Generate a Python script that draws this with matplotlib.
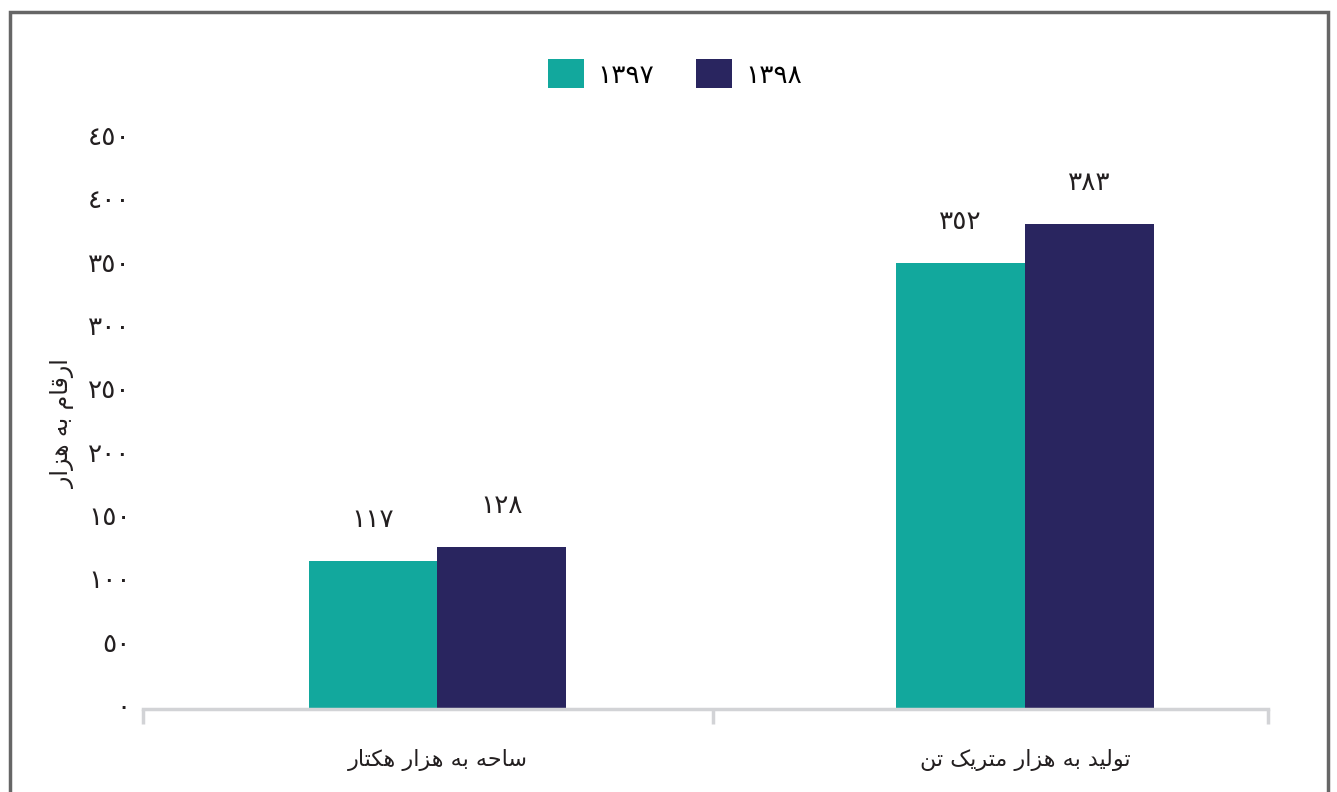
"""
Area and production bar chart (1397 vs 1398)
"""

import numpy as np
import matplotlib
matplotlib.use("Agg")
import matplotlib.pyplot as plt
import matplotlib.transforms as mtransforms
from matplotlib.patches import Rectangle

# data
categories = ["ساحه به هزار هکتار", "تولید به هزار متریک تن"]
years = ["1397", "1398"]
values_1397 = [117, 352]
values_1398 = [128, 383]
yticks = [0, 50, 100, 150, 200, 250, 300, 350, 400, 450]
ylabel = "ارقام به هزار"

teal = "#12a89d"
navy = "#29255f"
grey = "#d2d3d6"
txt = "#231f20"

# --- minimal arabic shaping (matplotlib does no joining / bidi) ---
# letter: (isolated, final, initial, medial); right-joining letters have 2 forms
FORMS = {
    "ا": (0xFE8D, 0xFE8E), "د": (0xFEA9, 0xFEAA), "ر": (0xFEAD, 0xFEAE),
    "ز": (0xFEAF, 0xFEB0), "و": (0xFEED, 0xFEEE),
    "ب": (0xFE8F, 0xFE90, 0xFE91, 0xFE92), "ت": (0xFE95, 0xFE96, 0xFE97, 0xFE98),
    "ح": (0xFEA1, 0xFEA2, 0xFEA3, 0xFEA4), "س": (0xFEB1, 0xFEB2, 0xFEB3, 0xFEB4),
    "ق": (0xFED5, 0xFED6, 0xFED7, 0xFED8), "ل": (0xFEDD, 0xFEDE, 0xFEDF, 0xFEE0),
    "م": (0xFEE1, 0xFEE2, 0xFEE3, 0xFEE4), "ن": (0xFEE5, 0xFEE6, 0xFEE7, 0xFEE8),
    "ه": (0xFEE9, 0xFEEA, 0xFEEB, 0xFEEC), "ک": (0xFB8E, 0xFB8F, 0xFB90, 0xFB91),
    "ی": (0xFBFC, 0xFBFD, 0xFBFE, 0xFBFF),
}


def shape(s):
    out = []
    for i, ch in enumerate(s):
        if ch not in FORMS:
            out.append(ch)
            continue
        f = FORMS[ch]
        prev = s[i - 1] if i > 0 else " "
        nxt = s[i + 1] if i + 1 < len(s) else " "
        join_prev = prev in FORMS and len(FORMS[prev]) == 4
        join_next = len(f) == 4 and nxt in FORMS
        if join_prev and join_next:
            out.append(chr(f[3]))
        elif join_prev:
            out.append(chr(f[1]))
        elif join_next:
            out.append(chr(f[2]))
        else:
            out.append(chr(f[0]))
    return "".join(out)[::-1]


def ar_digits(v):
    return str(v).translate(str.maketrans("0123456789", "٠١٢٣٤٥٦٧٨٩"))


plt.rcParams["font.family"] = ["DejaVu Sans"]

fig = plt.figure(figsize=(13.37, 7.92), dpi=100)
ax = fig.add_axes([0.1070, 0.1048, 0.8415, 0.7197])

x = np.arange(len(categories))
w = 0.219
b1 = ax.bar(x - w / 2, values_1397, w, color=teal, label=ar_digits(years[0]))
b2 = ax.bar(x + w / 2, values_1398, w, color=navy, label=ar_digits(years[1]))

for bars, vals in [(b1, values_1397), (b2, values_1398)]:
    for r, v in zip(bars, vals):
        ax.annotate(ar_digits(v), (r.get_x() + r.get_width() / 2, v),
                    xytext=(0, 20), textcoords="offset points",
                    ha="center", va="bottom", fontsize=19, color=txt)

ax.set_ylim(0, 450)
ax.set_yticks(yticks)
ax.set_yticklabels([ar_digits(t) for t in yticks], fontsize=19, color=txt)
ax.tick_params(axis="y", length=0, pad=9)
# labels sit a few px higher than the gridline values in the original
shift = mtransforms.ScaledTranslation(0, 4 / 100, fig.dpi_scale_trans)
for lab in ax.get_yticklabels():
    lab.set_transform(lab.get_transform() + shift)

ax.set_xlim(-0.501, 1.4136)
ax.set_xticks(x)
ax.set_xticklabels([shape(c) for c in categories], fontsize=16, color=txt)
ax.tick_params(axis="x", length=0, pad=29)
ax.set_xticks([-0.501, 0.469, 1.4136], minor=True)
ax.tick_params(axis="x", which="minor", length=11, width=2.5, color=grey)

for s in ["top", "right", "left"]:
    ax.spines[s].set_visible(False)
ax.spines["bottom"].set_color(grey)
ax.spines["bottom"].set_linewidth(2.5)

ax.set_ylabel(shape(ylabel), fontsize=17, color=txt, labelpad=9)

fig.legend(loc="center", bbox_to_anchor=(675 / 1337, 1 - 74 / 792), ncol=2,
           frameon=False, fontsize=19, handlelength=1.35, handleheight=1.3,
           columnspacing=1.6, handletextpad=0.5)

# outer frame
fig.patches.append(Rectangle((10 / 1337, -0.05), 1318 / 1337, 1.05 - 12 / 792,
                             transform=fig.transFigure, fill=False,
                             edgecolor="#666666", linewidth=2.5))

fig.savefig("out.png", dpi=100)
plt.close()
